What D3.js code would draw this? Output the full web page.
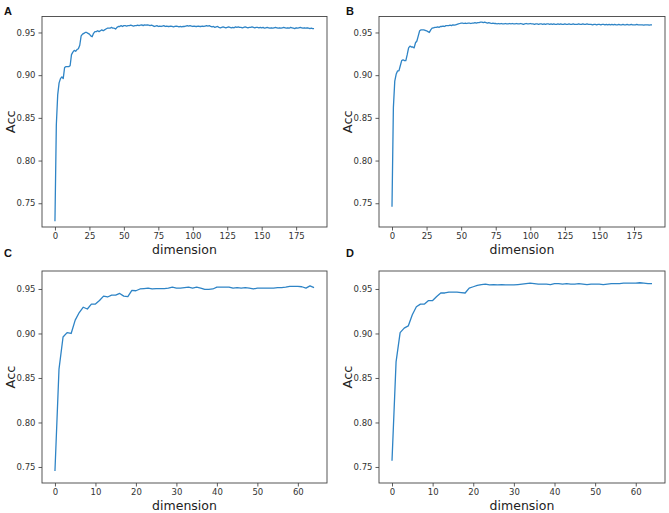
<!DOCTYPE html>
<html>
<head>
<meta charset="utf-8">
<script src="https://cdn.jsdelivr.net/npm/d3@7"></script>
<style>
  html, body { margin: 0; padding: 0; background: #fff; }
  svg { display: block; }
  .tick text { font-family: "DejaVu Sans", sans-serif; font-size: 8.5px; fill: #333; }
  .tick line { stroke: #333; stroke-width: 0.8; }
</style>
</head>
<body>
<svg id="chart" width="669" height="513"></svg>
<script>
// ---------------- data ----------------
const panelLabels = ["A", "B", "C", "D"];
const xLabel = "dimension";
const yLabel = "Acc";
const xTicksLong = [0, 25, 50, 75, 100, 125, 150, 175];
const xTicksShort = [0, 10, 20, 30, 40, 50, 60];
const yTicks = [0.75, 0.80, 0.85, 0.90, 0.95];

const accA = [
  0.729, 0.842, 0.877, 0.891, 0.896, 0.898, 0.896, 0.909, 0.910, 0.910,
  0.910, 0.911, 0.924, 0.927, 0.929, 0.928, 0.930, 0.931, 0.935, 0.946,
  0.948, 0.949, 0.950, 0.950, 0.949, 0.948, 0.946, 0.945, 0.949, 0.951,
  0.951, 0.952, 0.951, 0.952, 0.953, 0.952, 0.953, 0.954, 0.955, 0.955,
  0.955, 0.956, 0.955, 0.955, 0.954, 0.956, 0.957, 0.957, 0.958, 0.957,
  0.958, 0.958, 0.9575, 0.958, 0.958, 0.9585, 0.958, 0.9575, 0.958, 0.958,
  0.9585, 0.958, 0.9585, 0.959, 0.958, 0.959, 0.9585, 0.959, 0.9585, 0.958,
  0.9585, 0.958, 0.957, 0.9575, 0.958, 0.957, 0.9575, 0.957, 0.9575, 0.958,
  0.957, 0.9575, 0.957, 0.957, 0.9575, 0.957, 0.9565, 0.957, 0.9575, 0.957,
  0.9565, 0.957, 0.9565, 0.957, 0.957, 0.9575, 0.958, 0.9575, 0.958, 0.9575,
  0.957, 0.9575, 0.957, 0.957, 0.9575, 0.957, 0.957, 0.9575, 0.957, 0.9575,
  0.958, 0.9575, 0.958, 0.957, 0.9565, 0.957, 0.956, 0.9565, 0.957, 0.956,
  0.9555, 0.956, 0.9565, 0.956, 0.9555, 0.956, 0.9565, 0.956, 0.9555, 0.956,
  0.9555, 0.9565, 0.956, 0.9565, 0.956, 0.956, 0.9555, 0.956, 0.9565, 0.956,
  0.9555, 0.956, 0.956, 0.9565, 0.956, 0.9555, 0.956, 0.956, 0.9555, 0.956,
  0.9555, 0.956, 0.955, 0.9555, 0.956, 0.9555, 0.955, 0.9555, 0.955, 0.9555,
  0.956, 0.9555, 0.955, 0.9555, 0.955, 0.9555, 0.956, 0.9555, 0.955, 0.9555,
  0.955, 0.956, 0.9555, 0.955, 0.9545, 0.9555, 0.955, 0.9555, 0.956, 0.9555,
  0.955, 0.9555, 0.955, 0.9555, 0.955, 0.9545, 0.955, 0.9545, 0.9545
];

const accB = [
  0.746, 0.862, 0.893, 0.901, 0.905, 0.905, 0.911, 0.917, 0.918, 0.917,
  0.917, 0.924, 0.932, 0.934, 0.933, 0.933, 0.932, 0.938, 0.940, 0.946,
  0.952, 0.953, 0.953, 0.953, 0.9525, 0.952, 0.951, 0.950, 0.953, 0.955,
  0.9555, 0.956, 0.956, 0.9565, 0.956, 0.957, 0.957, 0.9575, 0.957, 0.958,
  0.958, 0.958, 0.9585, 0.958, 0.959, 0.9585, 0.959, 0.9595, 0.960, 0.9605,
  0.961, 0.961, 0.9605, 0.961, 0.9605, 0.961, 0.961, 0.9605, 0.961, 0.961,
  0.9615, 0.961, 0.9615, 0.9615, 0.962, 0.962, 0.9615, 0.962, 0.9615, 0.961,
  0.9615, 0.961, 0.9605, 0.961, 0.9605, 0.9605, 0.960, 0.9605, 0.960, 0.9605,
  0.960, 0.960, 0.9605, 0.960, 0.960, 0.9605, 0.960, 0.9605, 0.960, 0.960,
  0.9605, 0.960, 0.960, 0.9605, 0.960, 0.9595, 0.960, 0.9605, 0.960, 0.960,
  0.9605, 0.960, 0.960, 0.9595, 0.960, 0.960, 0.9595, 0.960, 0.960, 0.9595,
  0.960, 0.9595, 0.960, 0.960, 0.9595, 0.960, 0.9595, 0.960, 0.9595, 0.9595,
  0.960, 0.9595, 0.960, 0.9595, 0.9595, 0.960, 0.9595, 0.9595, 0.960, 0.9595,
  0.9595, 0.960, 0.9595, 0.9595, 0.9595, 0.960, 0.9595, 0.9595, 0.960, 0.9595,
  0.9595, 0.960, 0.9595, 0.9595, 0.9595, 0.959, 0.9595, 0.9595, 0.959, 0.9595,
  0.9595, 0.959, 0.9595, 0.9595, 0.959, 0.9595, 0.959, 0.9595, 0.959, 0.9595,
  0.959, 0.9595, 0.959, 0.959, 0.9595, 0.959, 0.959, 0.9595, 0.959, 0.959,
  0.9595, 0.959, 0.959, 0.9595, 0.959, 0.959, 0.959, 0.9595, 0.959, 0.959,
  0.959, 0.959, 0.9585, 0.959, 0.959, 0.959, 0.9585, 0.959, 0.959
];

const accC = [
  0.7455, 0.860, 0.896, 0.901, 0.900, 0.915, 0.9235, 0.9295, 0.9275, 0.933,
  0.933, 0.937, 0.942, 0.941, 0.943, 0.943, 0.945, 0.942, 0.9415, 0.9485,
  0.948, 0.950, 0.9505, 0.951, 0.950, 0.9505, 0.9505, 0.9505, 0.951, 0.952,
  0.951, 0.951, 0.9515, 0.952, 0.951, 0.952, 0.951, 0.9495, 0.9495, 0.950,
  0.952, 0.952, 0.952, 0.952, 0.951, 0.9515, 0.951, 0.9515, 0.951, 0.950,
  0.951, 0.951, 0.951, 0.951, 0.951, 0.9515, 0.9515, 0.952, 0.953, 0.953,
  0.953, 0.9525, 0.951, 0.9535, 0.9515
];

const accD = [
  0.757, 0.868, 0.901, 0.906, 0.9085, 0.921, 0.930, 0.933, 0.933, 0.937,
  0.937, 0.9415, 0.9455, 0.9455, 0.9465, 0.9465, 0.9465, 0.946, 0.9455, 0.951,
  0.9525, 0.954, 0.955, 0.9555, 0.9545, 0.955, 0.9545, 0.955, 0.9545, 0.9545,
  0.9545, 0.955, 0.9555, 0.956, 0.9565, 0.956, 0.9555, 0.9555, 0.9555, 0.955,
  0.956, 0.956, 0.9555, 0.956, 0.9555, 0.9555, 0.956, 0.9555, 0.955, 0.9555,
  0.9555, 0.9555, 0.955, 0.9555, 0.956, 0.956, 0.956, 0.9565, 0.9565, 0.9565,
  0.9565, 0.957, 0.9565, 0.956, 0.956
];

// ---------------- layout ----------------
const panels = [
  { label: panelLabels[0], values: accA, xTicks: xTicksLong, xDom: [-9.4, 197.4], yDom: [0.7222, 0.9687],
    left: 42, right: 327, top: 16.5, bottom: 227, labX: 4, labY: 15 },
  { label: panelLabels[1], values: accB, xTicks: xTicksLong, xDom: [-9.4, 197.4], yDom: [0.7222, 0.9687],
    left: 379, right: 665, top: 16.5, bottom: 227, labX: 346, labY: 15 },
  { label: panelLabels[2], values: accC, xTicks: xTicksShort, xDom: [-3.2, 67.2], yDom: [0.732, 0.9702],
    left: 42, right: 327, top: 271, bottom: 483, labX: 4, labY: 257 },
  { label: panelLabels[3], values: accD, xTicks: xTicksShort, xDom: [-3.2, 67.2], yDom: [0.732, 0.9702],
    left: 379, right: 665, top: 271, bottom: 483, labX: 346, labY: 257 }
];

const svg = d3.select("#chart");
const lineColor = "#2e84c6";

panels.forEach(p => {
  const g = svg.append("g");
  const x = d3.scaleLinear().domain(p.xDom).range([p.left, p.right]);
  const y = d3.scaleLinear().domain(p.yDom).range([p.bottom, p.top]);

  const line = d3.line().x((d, i) => x(i)).y(d => y(d));
  g.append("path")
    .datum(p.values)
    .attr("fill", "none")
    .attr("stroke", lineColor)
    .attr("stroke-width", 1.3)
    .attr("stroke-linejoin", "round")
    .attr("d", line);

  const xAxis = g.append("g")
    .attr("transform", `translate(0,${p.bottom})`)
    .call(d3.axisBottom(x).tickValues(p.xTicks).tickFormat(d3.format("d"))
      .tickSize(3.5).tickSizeOuter(0).tickPadding(2.5));
  xAxis.select(".domain").remove();

  const yAxis = g.append("g")
    .attr("transform", `translate(${p.left},0)`)
    .call(d3.axisLeft(y).tickValues(yTicks).tickFormat(d3.format(".2f"))
      .tickSize(3.5).tickSizeOuter(0).tickPadding(3));
  yAxis.select(".domain").remove();

  g.append("rect")
    .attr("x", p.left).attr("y", p.top)
    .attr("width", p.right - p.left).attr("height", p.bottom - p.top)
    .attr("fill", "none").attr("stroke", "#444").attr("stroke-width", 0.9);

  g.append("text")
    .attr("x", (p.left + p.right) / 2)
    .attr("y", p.bottom + 27)
    .attr("text-anchor", "middle")
    .attr("font-family", "DejaVu Sans, sans-serif")
    .attr("font-size", 12.5)
    .attr("fill", "#222")
    .text(xLabel);

  g.append("text")
    .attr("transform", `translate(${p.left - 27},${(p.top + p.bottom) / 2}) rotate(-90)`)
    .attr("text-anchor", "middle")
    .attr("font-family", "DejaVu Sans, sans-serif")
    .attr("font-size", 13)
    .attr("fill", "#222")
    .text(yLabel);

  g.append("text")
    .attr("x", p.labX).attr("y", p.labY)
    .attr("font-family", "Liberation Sans, Arial, sans-serif")
    .attr("font-weight", "bold")
    .attr("font-size", 11)
    .attr("fill", "#111")
    .text(p.label);
});
</script>
</body>
</html>
